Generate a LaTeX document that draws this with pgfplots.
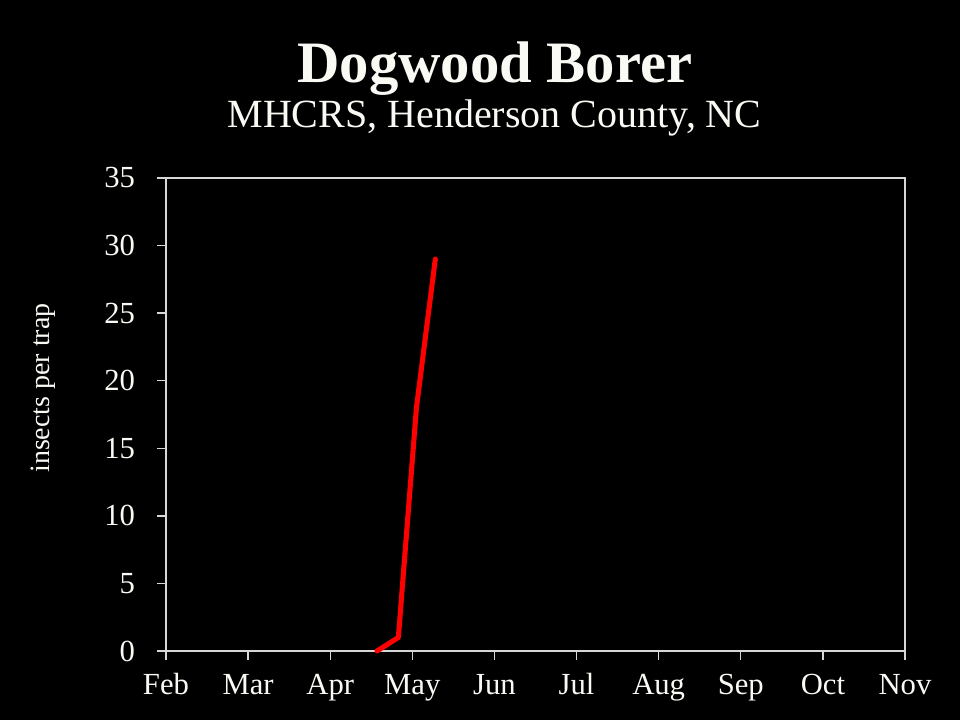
\documentclass[border=0pt]{standalone}
\usepackage{pgfplots}
\pgfplotsset{compat=1.18}
\usepackage{fontspec}
\setmainfont{Liberation Serif}
\definecolor{frame}{RGB}{215,215,215}
\definecolor{ink}{RGB}{250,250,245}
\begin{document}
\begin{tikzpicture}[x=0.75pt,y=0.75pt]
% page background, in px measured from the axis corner
\fill[black] (-166,-69) rectangle (794,651);
\node[anchor=base,text=ink,font=\fontsize{44}{50}\selectfont\bfseries] at (329,568) {Dogwood Borer};
\node[anchor=base,text=ink,font=\fontsize{30}{36}\selectfont] at (328.5,523) {MHCRS, Henderson County, NC};
\node[anchor=base,rotate=90,text=ink,font=\fontsize{21}{25}\selectfont] at (-116,263) {insects per trap};
\begin{axis}[
  scale only axis,
  width=554.25pt, height=354.75pt,
  xmin=0, xmax=9, ymin=0, ymax=35,
  xtick={0,...,9},
  xticklabels={Feb,Mar,Apr,May,Jun,Jul,Aug,Sep,Oct,Nov},
  ytick={0,5,...,35},
  tick align=outside,
  major tick length=6.5pt,
  axis line style={frame,line width=1pt},
  every tick/.style={frame,line width=1pt},
  xticklabel style={text=ink,font=\fontsize{23}{27}\selectfont,inner sep=0pt,anchor=base,yshift=-26.25pt},
  yticklabel style={text=ink,font=\fontsize{23}{27}\selectfont,inner sep=0pt,anchor=east,xshift=-16.5pt},
  /pgf/number format/assume math mode=true,
  xtick pos=bottom, ytick pos=left,
  clip=false,
]
\addplot[red,line width=3.8pt,line join=round,line cap=round] coordinates {
  (2.57,0) (2.83,1) (3.05,18) (3.28,29)
};
\end{axis}
\end{tikzpicture}
\end{document}
